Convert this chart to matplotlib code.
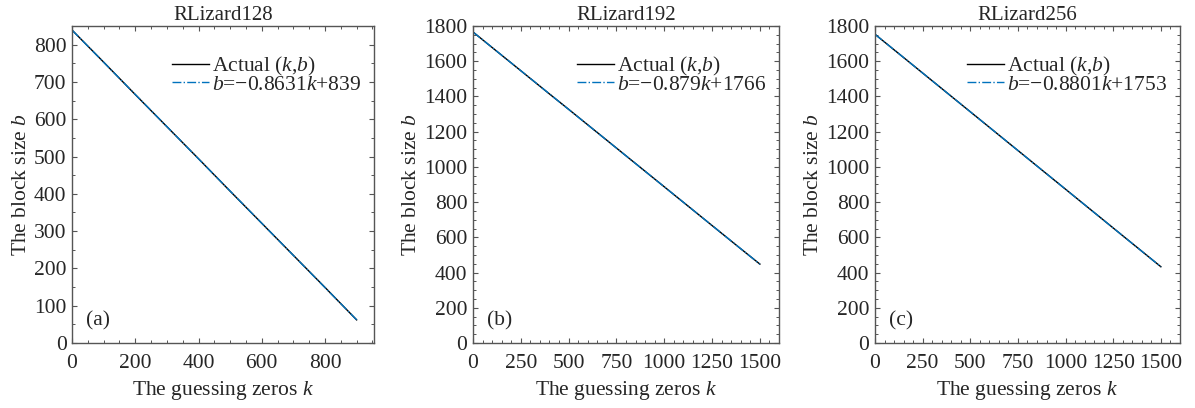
import numpy as np
import matplotlib.pyplot as plt
from matplotlib.ticker import MultipleLocator

plt.rcParams['font.family'] = ['Liberation Serif', 'DejaVu Serif']
plt.rcParams['mathtext.fontset'] = 'custom'
plt.rcParams['mathtext.rm'] = 'Liberation Serif'
plt.rcParams['mathtext.it'] = 'Liberation Serif:italic'
plt.rcParams['font.size'] = 15.5

titles = ["RLizard128", "RLizard192", "RLizard256"]
panel_tags = ["(a)", "(b)", "(c)"]

# actual (k, b) values
k_a = [0, 100, 200, 300, 400, 500, 600, 700, 800, 900]
b_a = [839, 753, 666, 580, 494, 407, 321, 235, 149, 62]
k_b = [0, 100, 200, 300, 400, 500, 600, 700, 800, 900, 1000, 1100, 1200, 1300, 1400, 1500]
b_b = [1766, 1678, 1590, 1502, 1414, 1327, 1239, 1151, 1063, 975, 887, 799, 711, 623, 535, 448]
k_c = [0, 100, 200, 300, 400, 500, 600, 700, 800, 900, 1000, 1100, 1200, 1300, 1400, 1500]
b_c = [1753, 1665, 1577, 1489, 1401, 1313, 1225, 1137, 1049, 961, 873, 785, 697, 609, 521, 433]

# fitted lines b = slope*k + intercept
slopes = [-0.8631, -0.879, -0.8801]
intercepts = [839, 1766, 1753]
fit_labels = ["$b$=\u22120.8631$k$+839", "$b$=\u22120.879$k$+1766", "$b$=\u22120.8801$k$+1753"]

xlims = [955, 1600, 1600]
ylims = [850, 1800, 1800]
x_major = [200, 250, 250]
y_major = [100, 200, 200]

positions = [
    [0.0603, 0.1593, 0.2527, 0.777],
    [0.3958, 0.1593, 0.2561, 0.777],
    [0.7322, 0.1593, 0.2552, 0.777],
]

fig = plt.figure(figsize=(11.95, 4.08), dpi=100)
text_color = "#262626"

for i, (ks, bs) in enumerate([(k_a, b_a), (k_b, b_b), (k_c, b_c)]):
    ax = fig.add_axes(positions[i])
    ks = np.array(ks)
    ax.plot(ks, bs, color="black", lw=1.0, label="Actual ($k$,$b$)")
    ax.plot(ks, slopes[i] * ks + intercepts[i], color="#0072BD", lw=1.0,
            linestyle="-.", label=fit_labels[i])
    ax.set_xlim(0, xlims[i])
    ax.set_ylim(0, ylims[i])
    ax.xaxis.set_major_locator(MultipleLocator(x_major[i]))
    ax.yaxis.set_major_locator(MultipleLocator(y_major[i]))
    ax.xaxis.set_minor_locator(MultipleLocator(50))
    ax.yaxis.set_minor_locator(MultipleLocator(50))
    ax.tick_params(which="both", direction="in", top=True, right=True,
                   colors="#555555", labelcolor=text_color, labelsize=15.5)
    ax.tick_params(axis="x", pad=8)
    ax.tick_params(axis="y", pad=4)
    ax.tick_params(which="major", length=3.5, width=0.8)
    ax.tick_params(which="minor", length=2.5, width=0.7)
    for sp in ax.spines.values():
        sp.set_color("#555555")
        sp.set_linewidth(1.0)
    ax.set_title(titles[i], fontsize=15, color=text_color, pad=4)
    ax.set_xlabel("The guessing zeros $k$", fontsize=15.5, color=text_color, labelpad=4)
    ax.set_ylabel("The block size $b$", fontsize=15.5, color=text_color, labelpad=2)
    ax.text(0.045, 0.04, panel_tags[i], transform=ax.transAxes,
            fontsize=15.5, color=text_color, ha="left", va="bottom")
    ax.legend(loc="upper right", bbox_to_anchor=(1.0, 0.95), frameon=False,
              handlelength=1.7, handletextpad=0.15, labelspacing=-0.15,
              borderaxespad=0.2, fontsize=15.5, labelcolor=text_color)

fig.savefig("out.png", dpi=100)
